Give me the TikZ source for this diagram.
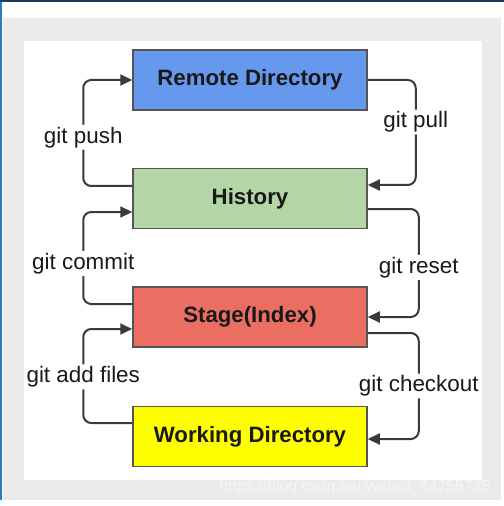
\documentclass[tikz,border=0pt]{standalone}
\usepackage{fontspec}
\setmainfont{Liberation Sans}
\usepackage{tikz}
\usetikzlibrary{arrows.meta}
\definecolor{remoteblue}{HTML}{6699EE}
\definecolor{historygreen}{HTML}{B4D6A6}
\definecolor{stagered}{HTML}{EA6E61}
\definecolor{workyellow}{HTML}{FFFF00}
\definecolor{gray235}{HTML}{EBEBEB}
\definecolor{gray85}{HTML}{555555}
\definecolor{gray55}{HTML}{3A3A3A}
\definecolor{frameblue}{HTML}{2A7BC0}
\tikzstyle{box}=[rectangle, draw=gray85, line width=1.5bp, minimum width=234bp, minimum height=60bp, text=black!90, font=\fontsize{22.3}{26}\selectfont\bfseries]
\tikzstyle{flow}=[draw=gray55, line width=2bp, rounded corners=8bp, -{Triangle[length=12bp,width=11bp]}]
\tikzstyle{cmd}=[fill=white, inner sep=2bp, text=black!90, font=\fontsize{22.5}{26}\selectfont]

\begin{document}
\begin{tikzpicture}[x=1bp, y=-1bp]
			\useasboundingbox (0,0) rectangle (504,506);
			% frame of the screenshot
			\fill[white] (0,0) rectangle (504,506);
			\fill[gray235] (3,18) rectangle (501,500);
			\fill[white] (24,41) rectangle (482,480);
			\draw[frameblue, line width=2.5bp] (1,0) -- (1,500);
			\draw[frameblue!50!black, line width=2bp] (0,1) -- (504,1);
			\node[anchor=east, text=white!96!black, font=\fontsize{16}{18}\selectfont] (mark) at (494,487) {https://blog.csdn.net/weixin\_44755735};
			% areas
			\node[box, fill=remoteblue] (remote) at (250,80) {Remote Directory};
			\node[box, fill=historygreen] (hist) at (250,198.5) {History};
			\node[box, fill=stagered] (stage) at (250,317) {Stage(Index)};
			\node[box, fill=workyellow] (work) at (250,436.5) {Working Directory};
			% commands going up
			\draw[flow] ([yshift=12.5bp]hist.west) -- ++(-49,0) |- node[pos=0.23, cmd] {git push} (remote.west);
			\draw[flow] ([yshift=13bp]stage.west) -- ++(-49,0) |- node[pos=0.22, cmd] {git commit} ([yshift=-13.5bp]hist.west);
			\draw[flow] ([yshift=13.5bp]work.west) -- ++(-49,0) |- node[pos=0.245, cmd] {git add files} ([yshift=-12bp]stage.west);
			% commands going down
			\draw[flow] (remote.east) -- ++(48,0) |- node[pos=0.2, cmd] {git pull} ([yshift=13.5bp]hist.east);
			\draw[flow] ([yshift=-10.5bp]hist.east) -- ++(51,0) |- node[pos=0.27, cmd] {git reset} (stage.east);
			\draw[flow] ([yshift=-16bp]stage.east) -- ++(51,0) |- node[pos=0.25, cmd] {git checkout} ([yshift=-2.5bp]work.east);
		\end{tikzpicture}
\end{document}
